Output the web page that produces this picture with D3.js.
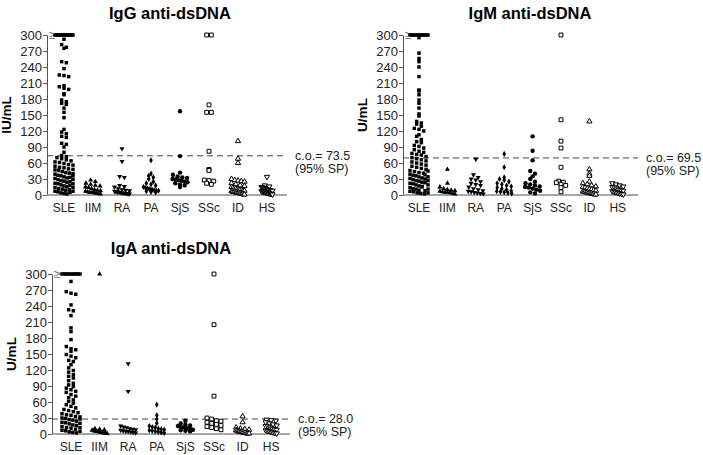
<!DOCTYPE html>
<meta charset="utf-8">
<script src="https://d3js.org/d3.v7.min.js"></script>
<style>
  body { margin: 0; background: #fff; }
  svg text { font-family: Arial, "Liberation Sans", sans-serif; }
</style>
<div id="chart"></div>
<script>
// categories and tick labels
const categories = ["SLE", "IIM", "RA", "PA", "SjS", "SSc", "ID", "HS"];
const yTicks = [0, 30, 60, 90, 120, 150, 180, 210, 240, 270, 300];
const titles = ["IgG anti-dsDNA", "IgM anti-dsDNA", "IgA anti-dsDNA"];
const units = ["IU/mL", "U/mL", "U/mL"];
const cutoffs = [73.5, 69.5, 28.0];

// values per category (>=300 plotted at 300)
const igG = [
  [300, 300, 300, 300, 300, 300, 300, 300, 300, 300, 300, 300, 300, 300,
   292, 282, 277, 275, 250, 248, 237, 225, 224, 222, 205, 203, 200, 198, 190, 188,
   178, 175, 172, 170, 163, 155, 145, 123, 118, 115, 110, 108, 97, 95, 90, 80,
   74, 72, 70, 68, 66, 64, 62, 61, 59, 57, 56, 54, 52, 51, 49, 47, 46, 44, 42, 41,
   39, 37, 36, 34, 32, 31, 29, 27, 26, 24, 22, 21, 19, 17, 16, 14, 12, 11, 9, 7,
   6, 4, 3, 2, 48, 40, 33, 25, 18, 10, 5, 36, 29, 21, 14, 7],
  [28, 25, 22, 20, 18, 17, 15, 14, 12, 10, 9, 8, 7, 6, 5, 5, 4, 3, 3, 2],
  [87, 63, 35, 33, 18, 16, 15, 12, 10, 9, 8, 7, 6, 6, 5, 5, 4, 4, 3, 3, 2, 2],
  [65, 40, 36, 33, 30, 25, 22, 20, 18, 15, 13, 12, 11, 10, 9, 8, 8, 7, 6, 5],
  [157, 73, 42, 38, 35, 33, 32, 30, 29, 28, 27, 25, 24, 22, 20, 18, 15],
  [300, 300, 169, 155, 155, 82, 48, 46, 28, 27, 26, 22, 20],
  [101, 68, 60, 30, 28, 27, 26, 25, 22, 20, 18, 17, 15, 14, 13, 12, 11, 10, 10, 9,
   8, 8, 7, 7, 6, 6, 5, 5, 4, 4, 3, 3, 2, 2, 1, 1],
  [34, 18, 16, 15, 14, 13, 12, 11, 10, 9, 9, 8, 8, 7, 7, 6, 6, 5, 5, 4, 4, 3, 3, 2, 2, 1]
];

const igM = [
  [300, 300, 300, 300, 300, 300, 300, 300, 300, 300, 300, 300, 295,
   266, 256, 250, 240, 222, 197, 195, 188, 178, 172, 163, 152, 148, 138, 135, 133,
   129, 125, 123, 120, 113, 110, 104, 100, 98, 93, 91, 88, 85, 82, 80, 78, 76, 75, 72,
   70, 68, 66, 64, 62, 60, 58, 56, 54, 52, 50, 48, 46, 44, 42, 41, 39, 37, 36, 34,
   32, 31, 29, 27, 26, 24, 22, 21, 19, 17, 16, 14, 12, 11, 9, 7, 6, 4, 3, 2,
   45, 38, 30, 23, 15, 8, 4, 34, 27, 19, 11],
  [48, 22, 15, 12, 10, 9, 8, 7, 6, 5, 5, 4, 3, 2],
  [67, 38, 33, 30, 28, 25, 22, 20, 18, 15, 12, 10, 8, 7, 6, 5, 4, 3, 2],
  [77, 52, 33, 30, 28, 25, 22, 20, 18, 16, 14, 12, 10, 8, 7, 6, 5, 4, 3],
  [110, 83, 65, 45, 40, 35, 30, 25, 22, 20, 18, 16, 15, 14, 12, 10, 8, 5, 3],
  [300, 141, 101, 88, 52, 26, 24, 23, 20, 18, 14, 6],
  [138, 48, 40, 36, 25, 22, 20, 18, 16, 15, 14, 12, 11, 10, 9, 8, 7, 6, 6, 5,
   5, 4, 4, 3, 3, 2, 2, 1, 1],
  [22, 20, 18, 16, 15, 14, 12, 10, 9, 8, 7, 6, 5, 4, 3, 2, 1]
];

const igA = [
  [300, 300, 300, 300, 300, 300, 300, 300, 300, 300,
   286, 267, 264, 262, 242, 233, 231, 222, 199, 192, 177, 164, 160, 158, 155, 149,
   146, 143, 138, 136, 130, 124, 119, 116, 111, 108, 105, 100, 95, 92, 89, 86, 83,
   80, 78, 74, 71, 68, 64, 61, 58, 55, 52, 49, 46, 44, 42, 40, 38, 36,
   35, 33, 32, 30, 29, 27, 26, 24, 22, 21, 19, 17, 16, 14, 12, 11, 9, 7, 6, 4, 3, 2,
   28, 20, 12, 5],
  [300, 10, 9, 8, 7, 6, 5, 5, 4, 3, 3, 2, 2, 1],
  [132, 80, 15, 13, 12, 10, 9, 8, 7, 6, 5, 5, 4, 3, 2],
  [55, 35, 28, 20, 15, 13, 12, 10, 9, 8, 7, 6, 5, 4, 3, 2],
  [25, 20, 18, 16, 15, 14, 13, 12, 11, 10, 9, 8, 7, 6, 5],
  [300, 205, 71, 30, 28, 25, 24, 22, 20, 18, 16, 14, 12, 10, 8],
  [33, 22, 12, 10, 9, 8, 7, 6, 5, 5, 4, 4, 3, 3, 2, 2, 1, 1, 1],
  [27, 26, 25, 22, 20, 18, 16, 15, 14, 12, 10, 9, 8, 7, 6, 5, 4, 3, 2, 1]
];

// marker per category
const markers = [
  { type: d3.symbolSquare, size: 12, open: false, rot: 0, w: 18 },
  { type: d3.symbolTriangle, size: 11, open: false, rot: 0, w: 15 },
  { type: d3.symbolTriangle, size: 11, open: false, rot: 180, w: 15 },
  { type: d3.symbolDiamond, size: 11, open: false, rot: 0, w: 15 },
  { type: d3.symbolCircle, size: 15, open: false, rot: 0, w: 15 },
  { type: d3.symbolSquare, size: 15, open: true, rot: 0, w: 14 },
  { type: d3.symbolTriangle, size: 12, open: true, rot: 0, w: 13 },
  { type: d3.symbolTriangle, size: 12, open: true, rot: 180, w: 11 }
];

const panels = [
  { data: igG, x0: 47, x1: 287, y0: 195, y1: 35, first: 64, step: 29, tx: 170, ty: 19 },
  { data: igM, x0: 403, x1: 638, y0: 195, y1: 35, first: 419, step: 28.4, tx: 530, ty: 19 },
  { data: igA, x0: 52, x1: 290, y0: 434, y1: 274, first: 71, step: 28.6, tx: 171, ty: 254 }
];

const svg = d3.select("#chart").append("svg")
  .attr("width", 703).attr("height", 455);

// spread points of a column horizontally, rows of one marker height
function swarm(vals, cx, y, rowH, maxW) {
  const bins = d3.group(vals, v => v >= 300 ? -1 : Math.floor((y(0) - y(v)) / rowH));
  const pts = [];
  for (const [k, arr] of bins) {
    const n = arr.length;
    const sp = n > 1 ? Math.min(rowH + 0.5, maxW / (n - 1)) : 0;
    arr.forEach((v, i) => pts.push({ v: v, x: cx + (i - (n - 1) / 2) * sp, y: y(v) }));
  }
  return pts;
}

panels.forEach((p, pi) => {
  const g = svg.append("g");
  const y = d3.scaleLinear().domain([0, 300]).range([p.y0, p.y1]);
  const x = d3.scalePoint().domain(categories)
    .range([p.first, p.first + p.step * (categories.length - 1)]);

  // title
  g.append("text")
    .attr("x", p.tx).attr("y", p.ty)
    .attr("text-anchor", "middle")
    .style("font-size", "16.5px").style("font-weight", "bold")
    .text(titles[pi]);

  // y label
  g.append("text")
    .attr("transform", `translate(${p.x0 - 36},${(p.y0 + p.y1) / 2}) rotate(-90)`)
    .attr("text-anchor", "middle")
    .style("font-size", "13.5px").style("font-weight", "bold")
    .text(units[pi]);

  // y axis
  const yAxis = g.append("g")
    .attr("transform", `translate(${p.x0},0)`)
    .call(d3.axisLeft(y).tickValues(yTicks).tickSize(4).tickPadding(1).tickSizeOuter(0));
  yAxis.select(".domain").attr("stroke", "#555");
  yAxis.selectAll(".tick line").attr("stroke", "#555");
  yAxis.selectAll("text").style("font-size", "13px").attr("fill", "#222").attr("dy", "0.35em");

  // x baseline
  g.append("line")
    .attr("x1", p.x0).attr("x2", p.x1)
    .attr("y1", p.y0).attr("y2", p.y0)
    .attr("stroke", "#888").attr("stroke-width", 1.5);

  // category labels
  g.selectAll(".cat").data(categories).join("text")
    .attr("class", "cat")
    .attr("x", d => x(d)).attr("y", p.y0 + 17)
    .attr("text-anchor", "middle")
    .style("font-size", "12px").attr("fill", "#222")
    .text(d => d);

  // cutoff line
  g.append("line")
    .attr("x1", p.x0).attr("x2", p.x1)
    .attr("y1", y(cutoffs[pi])).attr("y2", y(cutoffs[pi]))
    .attr("stroke", "#444").attr("stroke-width", 1)
    .attr("stroke-dasharray", "6,4");
  g.append("text")
    .attr("x", p.x1 + 8).attr("y", y(cutoffs[pi]) + 4)
    .style("font-size", "12.5px").attr("fill", "#222")
    .text("c.o.= " + cutoffs[pi].toFixed(1));
  g.append("text")
    .attr("x", p.x1 + 8).attr("y", y(cutoffs[pi]) + 17)
    .style("font-size", "12.5px").attr("fill", "#222")
    .text("(95% SP)");

  // >= sign at top
  g.append("text")
    .attr("x", p.x0 + 2).attr("y", y(300) + 4)
    .style("font-size", "12px").attr("fill", "#666")
    .text("\u2265");

  // points
  p.data.forEach((vals, ci) => {
    const m = markers[ci];
    const sym = d3.symbol().type(m.type).size(m.size);
    const pts = swarm(vals, x(categories[ci]), y, 4.2, m.w);
    g.append("g").selectAll("path").data(pts).join("path")
      .attr("d", sym)
      .attr("transform", d => `translate(${d.x},${d.y}) rotate(${m.rot})`)
      .attr("fill", m.open ? "#fff" : "#000")
      .attr("stroke", m.open ? "#000" : "none")
      .attr("stroke-width", 1);
  });
});
</script>
